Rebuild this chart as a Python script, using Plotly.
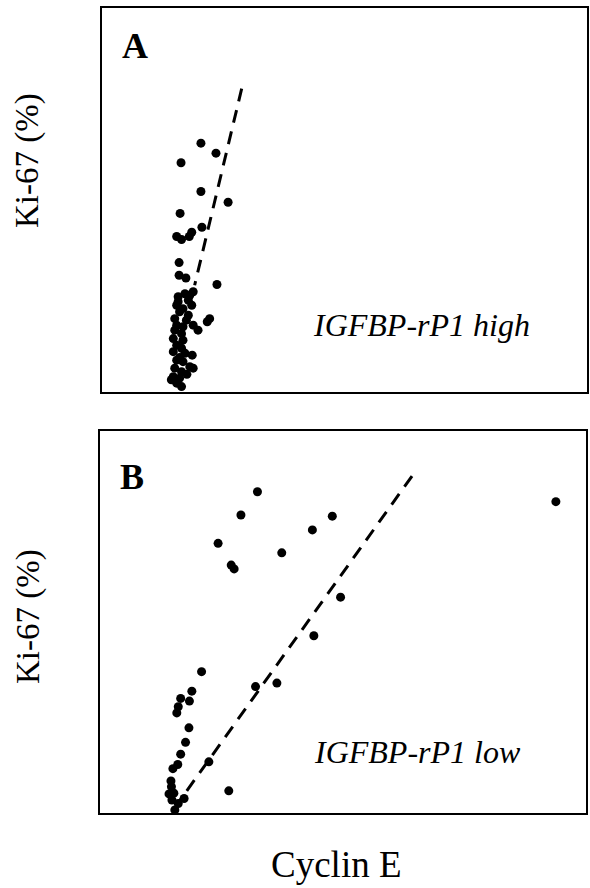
import plotly.graph_objects as go

# Panel A: IGFBP-rP1 high (Cyclin E, arbitrary units; Ki-67 %, relative scale)
cyclin_e_high = [20.4, 23.5, 16.3, 20.4, 26.0, 16.1, 20.6, 18.5, 18.0, 15.4, 16.4,
                 15.9, 15.9, 17.3, 23.7, 18.8,
                 17.1, 17.8, 15.7, 15.4, 18.5, 16.7, 16.0, 17.8, 15.0, 17.4, 15.4,
                 16.7, 18.8, 19.8, 15.0, 16.4, 14.7, 16.7, 15.4, 16.4, 14.7, 17.1,
                 18.6, 15.4, 16.7, 18.1, 18.8, 15.0, 16.4, 14.7, 16.0, 15.4, 16.4,
                 22.2, 21.7, 15.7, 18.1, 14.3, 16.0, 17.5]
ki67_high = [64.8, 62.2, 59.7, 52.2, 49.4, 46.5, 42.9, 41.6, 40.5, 40.5, 39.7,
             33.7, 30.4, 29.7, 28.0, 26.1,
             25.6, 23.9, 23.5, 22.6, 22.6, 21.7, 20.9, 20.0, 19.1, 18.7, 17.4,
             17.0, 17.4, 16.1, 16.1, 15.2, 13.9, 13.5, 12.2, 11.4, 10.5, 10.1,
             9.6, 8.3, 7.9, 6.6, 6.2, 6.2, 5.3, 4.0, 3.6, 2.3, 1.4,
             19.1, 18.3, 24.8, 25.2, 3.2, 9.0, 4.6]
fit_high_x = [28.8, 19.1]
fit_high_y = [79.0, 27.8]

# Panel B: IGFBP-rP1 low
cyclin_e_low = [32.4, 29.0, 47.8, 43.7, 24.3, 37.4, 27.0, 27.6, 49.5, 44.0,
                20.9, 32.0, 36.4, 18.9, 18.4, 16.6, 16.1, 15.8, 18.3, 17.6,
                16.6, 16.0, 15.0, 22.4, 14.6, 14.7, 14.2, 15.2, 14.8, 17.3,
                16.1, 15.4, 26.5, 93.8]
ki67_low = [84.1, 78.0, 77.7, 74.1, 70.6, 68.1, 64.9, 63.9, 56.5, 46.4,
            37.0, 33.1, 34.0, 31.9, 29.3, 30.0, 27.8, 26.2, 22.3, 18.5,
            15.4, 12.7, 11.6, 13.4, 8.4, 6.9, 5.0, 5.2, 3.4, 3.8,
            2.5, 0.8, 5.8, 81.5]
fit_low_x = [64.2, 15.6]
fit_low_y = [88.2, 1.8]

panel_letters = ["A", "B"]
group_labels = ["IGFBP-rP1 high", "IGFBP-rP1 low"]
y_title = "Ki-67 (%)"
x_title = "Cyclin E"

W, H = 590, 888
serif = "Liberation Serif"

fig = go.Figure()

marker = dict(color="black", size=9, line=dict(width=0))
dash_line = dict(color="black", width=3, dash="13px,9px")

fig.add_trace(go.Scatter(x=cyclin_e_high, y=ki67_high, mode="markers",
                         marker=marker, xaxis="x", yaxis="y", showlegend=False))
fig.add_trace(go.Scatter(x=fit_high_x, y=fit_high_y, mode="lines",
                         line=dash_line, xaxis="x", yaxis="y", showlegend=False))
fig.add_trace(go.Scatter(x=cyclin_e_low, y=ki67_low, mode="markers",
                         marker=marker, xaxis="x2", yaxis="y2", showlegend=False))
fig.add_trace(go.Scatter(x=fit_low_x, y=fit_low_y, mode="lines",
                         line=dash_line, xaxis="x2", yaxis="y2", showlegend=False))

def px_x(p):
    return p / W

def px_y(p):
    return 1 - p / H

ax_common = dict(showticklabels=False, showgrid=False, zeroline=False,
                 showline=True, mirror=True, linecolor="black", linewidth=1.5,
                 ticks="", range=[0, 100], fixedrange=True)

fig.update_layout(
    width=W, height=H,
    margin=dict(l=0, r=0, t=0, b=0),
    paper_bgcolor="white", plot_bgcolor="white",
    xaxis=dict(domain=[px_x(102), px_x(587)], anchor="y", **ax_common),
    yaxis=dict(domain=[px_y(392), px_y(8)], anchor="x", **ax_common),
    xaxis2=dict(domain=[px_x(100), px_x(586)], anchor="y2", **ax_common),
    yaxis2=dict(domain=[px_y(813), px_y(431)], anchor="x2", **ax_common),
)

def note(text, x, y, size, xanchor="center", angle=0):
    return dict(text=text, x=px_x(x), y=px_y(y), xref="paper", yref="paper",
                xanchor=xanchor, yanchor="middle", textangle=angle,
                showarrow=False, font=dict(family=serif, size=size, color="black"))

ann = [
    note("<b>%s</b>" % panel_letters[0], 135, 46, 36),
    note("<b>%s</b>" % panel_letters[1], 132, 477, 36),
    note("<i>%s</i>" % group_labels[0], 311, 325, 32, xanchor="left"),
    note("<i>%s</i>" % group_labels[1], 312, 752, 32, xanchor="left"),
    note(y_title, 28, 161, 33, angle=-90),
    note(y_title, 28, 617, 33, angle=-90),
    note(x_title, 336, 864, 37),
]

fig.update_layout(annotations=ann)
fig.write_html("out.html",
               config={"displayModeBar": False},
               post_script="document.body.style.margin='0px';"
                           "document.body.style.overflow='hidden';")
